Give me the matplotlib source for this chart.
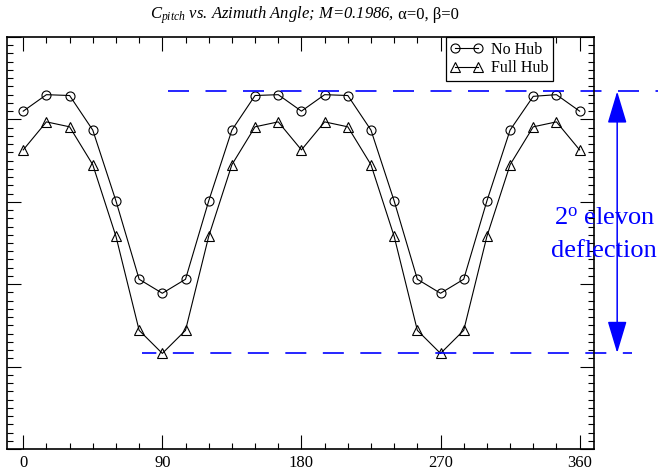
import numpy as np
import matplotlib.pyplot as plt
from matplotlib.ticker import MultipleLocator

plt.rcParams['font.family'] = ['Liberation Serif', 'DejaVu Serif']
plt.rcParams['mathtext.fontset'] = 'custom'
plt.rcParams['mathtext.rm'] = 'Liberation Serif'
plt.rcParams['mathtext.it'] = 'Liberation Serif:italic'

# azimuth angle, deg
azimuth = [0, 15, 30, 45, 60, 75, 90, 105, 120, 135, 150, 165, 180,
           195, 210, 225, 240, 255, 270, 285, 300, 315, 330, 345, 360]
# C_pitch (arbitrary units)
no_hub = [4.10, 4.30, 4.29, 3.87, 3.01, 2.06, 1.89, 2.06, 3.01, 3.87, 4.29, 4.30, 4.10,
          4.30, 4.29, 3.87, 3.01, 2.06, 1.89, 2.06, 3.01, 3.87, 4.28, 4.30, 4.10]
full_hub = [3.63, 3.97, 3.91, 3.45, 2.58, 1.44, 1.16, 1.44, 2.58, 3.45, 3.91, 3.97, 3.63,
            3.97, 3.91, 3.45, 2.58, 1.44, 1.16, 1.44, 2.58, 3.45, 3.91, 3.97, 3.63]

# elevon deflection reference levels
defl_top = 4.34
defl_bot = 1.165
top_span = [93.7, 425.0]
bot_span = [76.8, 394.0]
arrow_x = 384.3

blue = (0, 0, 1)

fig = plt.figure(figsize=(6.58, 4.71), dpi=100)
ax = fig.add_axes([7/658, 22/471, 587/658, 412/471])

ax.plot(azimuth, no_hub, 'k-', marker='o', mfc='none', mec='k', ms=6.5, mew=0.8,
        lw=0.8, label='No Hub')
ax.plot(azimuth, full_hub, 'k-', marker='^', mfc='none', mec='k', ms=6.5, mew=0.8,
        lw=0.8, label='Full Hub')

ax.plot(top_span, [defl_top, defl_top], color=blue, lw=1.2,
        linestyle=(0, (12.6, 9.9)), clip_on=False)
ax.plot(bot_span, [defl_bot, defl_bot], color=blue, lw=1.2,
        linestyle=(4, (12.6, 9.9)), clip_on=False)

ax.annotate('', xy=(arrow_x, defl_top), xytext=(arrow_x, defl_bot),
            xycoords='data', annotation_clip=False,
            arrowprops=dict(arrowstyle='<|-|>,head_length=2.0,head_width=0.6',
                            mutation_scale=10, color=blue, lw=1.1,
                            shrinkA=0, shrinkB=0))
ax.text(376, 2.60, '2$^\\mathrm{o}$ elevon\ndeflection', color=blue, fontsize=19,
        ha='center', va='center', linespacing=1.6, clip_on=False)

ax.set_xlim(-10.5, 369.3)
ax.set_ylim(0, 5)
ax.set_xticks([0, 90, 180, 270, 360])
ax.xaxis.set_minor_locator(MultipleLocator(15))
ax.yaxis.set_major_locator(MultipleLocator(1))
ax.yaxis.set_minor_locator(MultipleLocator(0.1))
ax.set_yticklabels([])
ax.tick_params(which='both', direction='in', top=True, right=True, width=0.8)
ax.tick_params(which='major', length=10)
ax.tick_params(which='minor', length=4.5)
ax.tick_params(axis='x', labelsize=12, pad=4)
for s in ax.spines.values():
    s.set_linewidth(1.2)

leg = ax.legend(loc='upper right', bbox_to_anchor=(0.93, 1.0), borderaxespad=0,
                numpoints=2, fontsize=11.5, fancybox=False, framealpha=1,
                edgecolor='k', handlelength=2.0, handletextpad=0.5,
                labelspacing=0.15, borderpad=0.3)
leg.get_frame().set_linewidth(0.9)

# title: italic part + upright greek part, centred over the axes
ty = 1 - 19/471
t1 = fig.text(0, ty, r'$C_{pitch}$ vs. Azimuth Angle; M=0.1986,', style='italic',
              fontsize=12, va='baseline', ha='left')
t2 = fig.text(0, ty, u'\u00a0\u03b1=0, \u03b2=0', fontsize=12, va='baseline', ha='left')
fig.canvas.draw()
r = fig.canvas.get_renderer()
w1 = t1.get_window_extent(r).width
w2 = t2.get_window_extent(r).width
cx = 304
x0 = cx - (w1 + w2) / 2
t1.set_x(x0 / 658)
t2.set_x((x0 + w1) / 658)

fig.savefig('out.png', dpi=100)
